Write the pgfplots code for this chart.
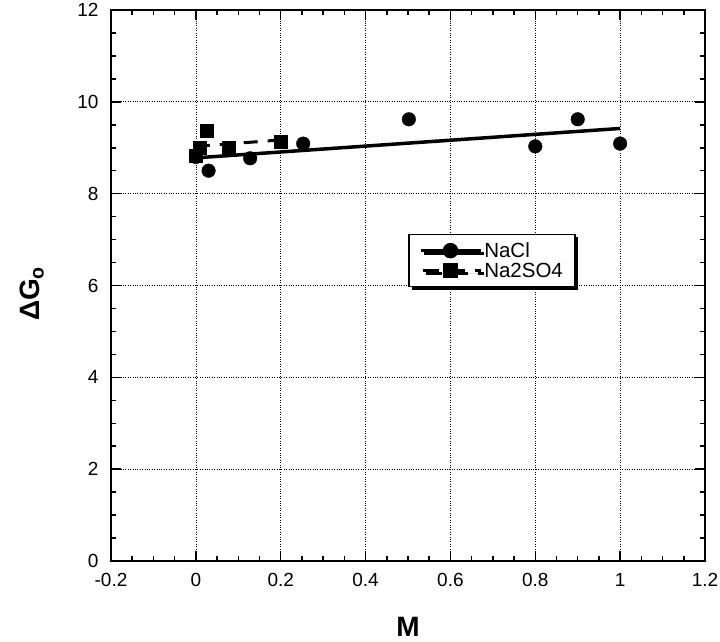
\documentclass[border=0pt]{standalone}
\usepackage{fontspec}
\setmainfont{Liberation Sans}
\usepackage{pgfplots}
\pgfplotsset{compat=1.18}
\usetikzlibrary{shadows}
\begin{document}
\begin{tikzpicture}[x=1pt,y=1pt]
\path[use as bounding box] (0,0) rectangle (720,641);
\begin{axis}[
  at={(111pt,80pt)}, anchor=south west,
  scale only axis, width=594pt, height=551pt,
  xmin=-0.2, xmax=1.2, ymin=0, ymax=12,
  xtick={-0.2,0,0.2,0.4,0.6,0.8,1,1.2},
  ytick={0,2,4,6,8,10,12},
  minor x tick num=3, minor y tick num=3,
  tick align=inside,
  major tick length=10pt, minor tick length=5pt,
  every tick/.style={black, line width=1.5pt},
  axis line style={line width=2pt},
  grid=major,
  major grid style={black, dotted, line width=0.7pt},
  /pgf/number format/assume math mode=true,
  tick label style={font=\fontsize{19}{22}\selectfont},
  xticklabel style={yshift=-9pt},
  yticklabel style={xshift=-9pt},
  xlabel={\textbf{M}},
  xlabel style={font=\fontsize{28}{30}\selectfont\bfseries, at={(axis description cs:0.5,-0.119)}, anchor=center},
  ylabel={\textbf{ΔG\textsubscript{o}}},
  ylabel style={font=\fontsize{28}{30}\selectfont\bfseries, at={(axis description cs:-0.133,0.485)}, anchor=center},
  legend style={at={(0.5,0.594)}, anchor=north west, draw=black, line width=1.5pt,
    fill=white, font=\fontsize{20.5}{22}\selectfont, inner xsep=10pt, inner ysep=6pt, row sep=0pt,
    drop shadow={shadow xshift=3pt, shadow yshift=-3pt, fill=black, opacity=1},
    /tikz/every even column/.append style={column sep=0pt}},
  legend cell align=left,
  legend image code/.code={\draw[mark repeat=2,mark phase=2,#1] plot coordinates {(0pt,0pt)(30pt,0pt)(60pt,0pt)};},
]
% fit lines
\addplot[black, line width=3.5pt, forget plot] coordinates {(0,8.78) (1,9.42)};
\addplot[black, line width=3pt, dash pattern=on 14pt off 10pt, forget plot] coordinates {(0,9.03) (0.2,9.17)};
% NaCl
\addplot[black, only marks, mark=*, mark size=6.8pt, forget plot] coordinates {
(0,8.8) (0.03,8.5) (0.128,8.77) (0.253,9.09) (0.502,9.62) (0.8,9.03) (0.9,9.62) (1.0,9.09)};
% Na2SO4
\addplot[black, only marks, mark=square*, mark size=6.5pt, forget plot] coordinates {
(0.0,8.83) (0.01,9.0) (0.026,9.38) (0.078,9.0) (0.2,9.14)};
\addlegendimage{black, line width=3.5pt, mark=*, mark size=6pt, mark options={solid}}
\addlegendentry{NaCl}
\addlegendimage{black, line width=3pt, dash pattern=on 16pt off 10pt, dash phase=-2pt, mark=square*, mark size=6pt, mark options={solid}}
\addlegendentry{Na2SO4}
\end{axis}
\end{tikzpicture}
\end{document}
